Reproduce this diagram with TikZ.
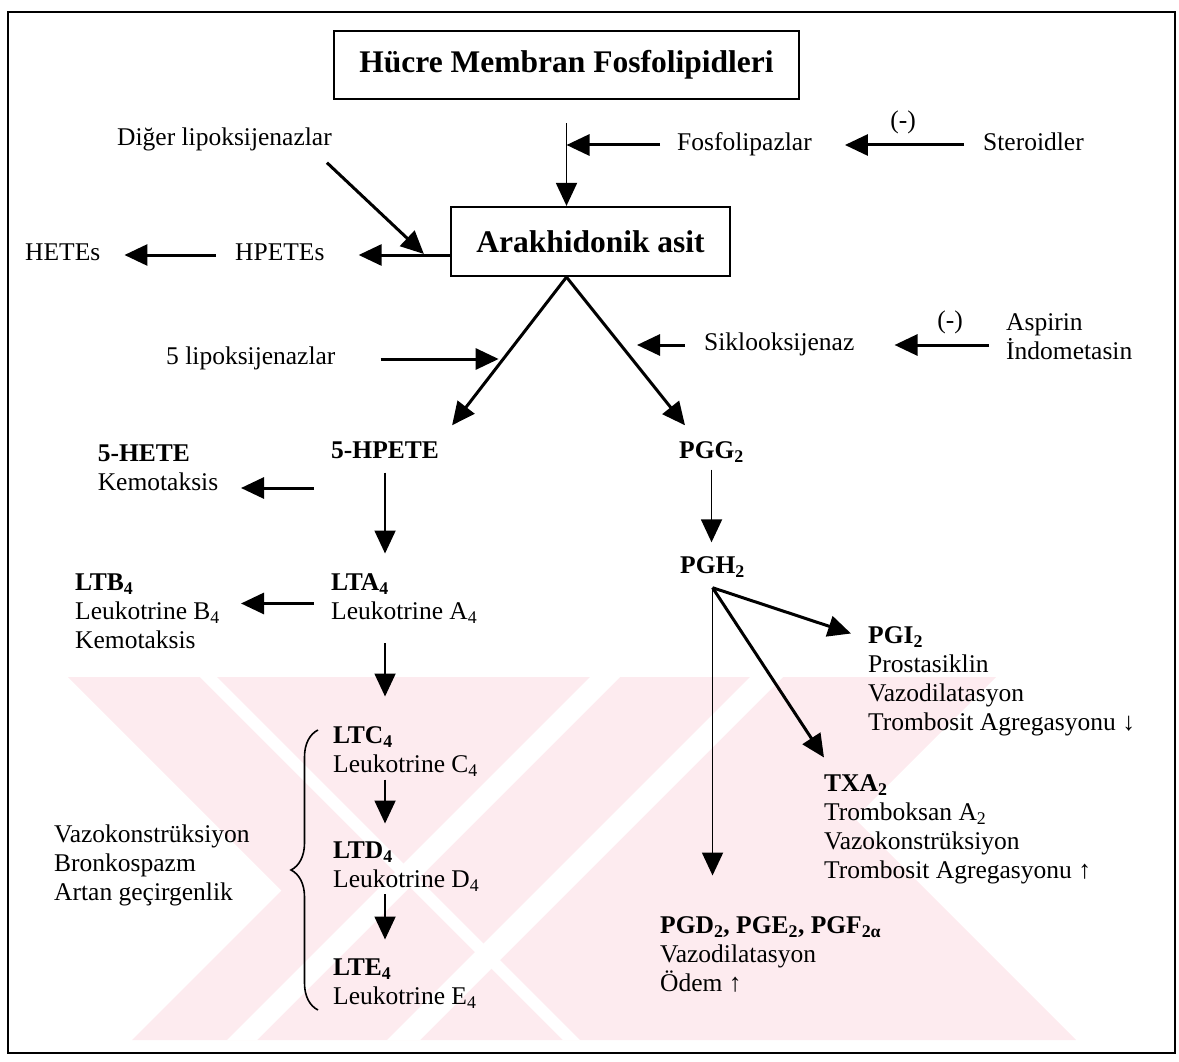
\documentclass[tikz,border=0pt]{standalone}
\usepackage{fontspec}
\setmainfont{Liberation Serif}
\usetikzlibrary{arrows.meta,decorations.pathreplacing}
\definecolor{wmpink}{RGB}{253,235,239}

\begin{document}
\begin{tikzpicture}[x=1pt,y=-1pt,
  lab/.style={inner sep=0pt,font=\fontsize{25.5}{29}\selectfont,text height=17pt,text depth=6pt,anchor=west},
  blk/.style={inner sep=0pt,font=\fontsize{25.5}{29}\selectfont,align=left,anchor=north west},
  hdbox/.style={draw,line width=2.2pt,inner sep=0pt,font=\fontsize{31.5}{35}\selectfont\bfseries},
  arr/.style={-{Triangle[length=23pt,width=21pt]},line width=3pt},
  varr/.style={arr,line width=1.9pt}]
  \useasboundingbox (0,0) rectangle (1179,1062);
  % watermark stripes
  \fill[wmpink] (68,677) -- (281.5,890.5) -- (132,1040) -- (1076,1040) -- (854.5,818.5) -- (996,677) -- cycle;
  \fill[white] (200,677) -- (217,677) -- (580,1040) -- (563,1040) -- cycle;
  \fill[white] (590,677) -- (620,677) -- (257,1040) -- (227,1040) -- cycle;
  \fill[white] (750,677) -- (783,677) -- (420,1040) -- (387,1040) -- cycle;
  \draw[line width=2pt] (8,12) rectangle (1175,1053);

  \node[hdbox,minimum width=465pt,minimum height=68pt] (memb) at (566.5,65) {Hücre Membran Fosfolipidleri};
  \node[hdbox,minimum width=279pt,minimum height=69pt] (arak) at (590.5,241.5) {Arakhidonik asit};

  \node[lab] (dlipo) at (117,140) {Diğer lipoksijenazlar};
  \node[lab] (fosfo) at (677,145) {Fosfolipazlar};
  \node[lab] (ster) at (983,145) {Steroidler};
  \node[lab,anchor=center] (inh1) at (903,123) {(-)};
  \node[lab] (hetes) at (25,255) {HETEs};
  \node[lab] (hpetes) at (235,255) {HPETEs};
  \node[lab] (lipo5) at (166,359) {5 lipoksijenazlar};
  \node[lab] (siklo) at (704,345) {Siklooksijenaz};
  \node[lab,anchor=center] (inh2) at (950,323) {(-)};
  \node[blk] (asp) at (1006,313.5) {Aspirin\\İndometasin};

  \node[lab] (hpete5) at (331,453) {\textbf{5-HPETE}};
  \node[blk] (hete5) at (97.6,444.5) {\textbf{5-HETE}\\Kemotaksis};
  \node[lab] (pgg) at (679,453) {\textbf{PGG\textsubscript{2}}};
  \node[lab] (pgh) at (680,568) {\textbf{PGH\textsubscript{2}}};
  \node[blk] (lta) at (331,573.5) {\textbf{LTA\textsubscript{4}}\\Leukotrine A\textsubscript{4}};
  \node[blk] (ltb) at (75,573.5) {\textbf{LTB\textsubscript{4}}\\Leukotrine B\textsubscript{4}\\Kemotaksis};
  \node[blk] (pgi) at (868,626.5) {\textbf{PGI\textsubscript{2}}\\Prostasiklin\\Vazodilatasyon\\Trombosit Agregasyonu ↓};
  \node[blk] (ltc) at (333,726.5) {\textbf{LTC\textsubscript{4}}\\Leukotrine C\textsubscript{4}};
  \node[blk] (txa) at (824,774.5) {\textbf{TXA\textsubscript{2}}\\Tromboksan A\textsubscript{2}\\Vazokonstrüksiyon\\Trombosit Agregasyonu ↑};
  \node[blk] (vazo) at (54,824.5) {Vazokonstrüksiyon\\Bronkospazm\\Artan geçirgenlik};
  \node[blk] (ltd) at (333,841.5) {\textbf{LTD\textsubscript{4}}\\Leukotrine D\textsubscript{4}};
  \node[blk] (pgd) at (660,916.5) {\textbf{PGD\textsubscript{2}, PGE\textsubscript{2}, PGF\textsubscript{2α}}\\Vazodilatasyon\\Ödem ↑};
  \node[blk] (lte) at (333,958.5) {\textbf{LTE\textsubscript{4}}\\Leukotrine E\textsubscript{4}};

  % top part
  \draw[varr] ([yshift=-23pt]memb.south) -- (memb.south |- arak.north);
  \draw[arr] ([xshift=-17pt]fosfo.west) -- (fosfo.west -| memb.south);
  \draw[arr] (fosfo.east -| ster.west) ++(-19pt,0) -- ([xshift=33pt]fosfo.east);
  \draw[arr] ([shift={(-5pt,-11pt)}]dlipo.south east) -- ([shift={(-26pt,-12.5pt)}]arak.west);
  \draw[arr] (arak.west |- hpetes.east) -- ([xshift=34pt]hpetes.east);
  \draw[arr] ([xshift=-19pt]hpetes.west) -- ([xshift=24pt]hetes.east);
  \coordinate (fork) at (memb.south |- arak.south);
  \draw[arr] (fork) -- ([shift={(13pt,16pt)}]hpete5.north east);
  \draw[arr] (fork) -- ([shift={(6pt,16pt)}]pgg.north west);
  \draw[arr] ([xshift=45pt]lipo5.east) -- ++(118pt,0);
  \draw[arr] ([xshift=-19pt]siklo.west) -- ++(-48pt,0);
  \draw[arr] (siklo.east -| asp.west) ++(-17pt,0) -- ([xshift=40pt]siklo.east);

  % leukotrienes
  \draw[arr] ([shift={(-17pt,-35pt)}]hpete5.west) -- ++(-73pt,0);
  \draw[varr] ([yshift=-8pt]hpete5.south) -- ([yshift=20pt]hpete5.south |- lta.north);
  \draw[arr] ([shift={(-17pt,-5pt)}]lta.west) -- ++(-73pt,0);
  \draw[varr] (hpete5.south |- lta.south) ++(0,20) -- ([yshift=30pt]hpete5.south |- ltc.north);
  \draw[varr] ([yshift=-3pt]ltc.south -| hpete5.south) -- ([yshift=18pt]hpete5.south |- ltd.north);
  \draw[varr] ([yshift=-3pt]ltd.south -| hpete5.south) -- ([yshift=19pt]hpete5.south |- lte.north);
  \draw[decorate,decoration={brace,amplitude=27pt},line width=1.6pt] (318,1010) -- (318,730);

  % prostanoids
  \draw[varr] ([yshift=-5pt]pgg.south) -- ([yshift=14pt]pgg.south |- pgh.north);
  \coordinate (fan) at ([yshift=-8pt]pgh.south);
  \draw[arr] (fan) -- ([shift={(-17pt,-7pt)}]pgi.north west);
  \draw[arr] (fan) -- ([yshift=17pt]txa.north west);
  \draw[varr] (fan) -- ([yshift=41pt]fan |- pgd.north);
\end{tikzpicture}
\end{document}
